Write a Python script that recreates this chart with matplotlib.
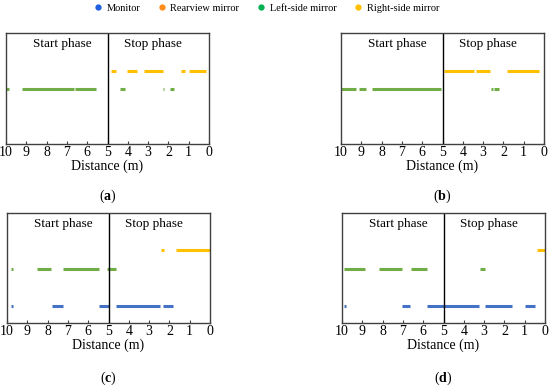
import matplotlib
matplotlib.use("Agg")
import matplotlib.pyplot as plt
from matplotlib.lines import Line2D

plt.rcParams['font.family'] = ['Liberation Serif', 'DejaVu Serif']
plt.rcParams['mathtext.fontset'] = 'custom'
plt.rcParams['mathtext.rm'] = 'Liberation Serif'
plt.rcParams['mathtext.bf'] = 'Liberation Serif:bold'

# gaze sources, their row on the y axis and colours
sources = ['Monitor', 'Rearview mirror', 'Left-side mirror', 'Right-side mirror']
levels = [1, 2, 3, 4]
line_colors = ['#4472C4', '#ED7D31', '#70AD47', '#FFC000']
legend_colors = ['#1F5FE0', '#FF8C1A', '#00B050', '#FFC000']

# gaze segments [from, to] in distance (m) for each panel
a_monitor = []
a_rearview = []
a_left = [[10.0, 9.85], [9.23, 6.65], [6.59, 5.58], [4.38, 4.15], [2.28, 2.2], [1.94, 1.74]]
a_right = [[4.83, 4.58], [4.05, 3.56], [3.2, 2.27], [1.36, 1.17], [0.97, 0.16]]

b_monitor = []
b_rearview = []
b_left = [[10.0, 9.25], [9.13, 8.77], [8.47, 5.07], [2.6, 2.5], [2.45, 2.2]]
b_right = [[4.92, 3.44], [3.37, 2.65], [1.8, 0.25]]

c_monitor = [[9.78, 9.72], [7.8, 7.26], [5.48, 5.0], [4.63, 2.45], [2.33, 1.81]]
c_rearview = []
c_left = [[9.78, 9.72], [8.52, 7.83], [7.26, 5.48], [5.06, 4.63]]
c_right = [[2.4, 2.28], [1.69, 0.0]]

d_monitor = [[9.88, 9.8], [7.02, 6.64], [5.82, 5.0], [5.0, 3.23], [2.94, 1.63], [0.99, 0.5]]
d_rearview = []
d_left = [[9.89, 8.85], [8.2, 7.05], [6.6, 5.82], [3.2, 2.95]]
d_right = [[0.41, 0.0]]

panels = [
    ('a', [a_monitor, a_rearview, a_left, a_right]),
    ('b', [b_monitor, b_rearview, b_left, b_right]),
    ('c', [c_monitor, c_rearview, c_left, c_right]),
    ('d', [d_monitor, d_rearview, d_left, d_right]),
]
xticks = [10, 9, 8, 7, 6, 5, 4, 3, 2, 1, 0]

fig = plt.figure(figsize=(5.5, 3.87), dpi=100)
W, H = 550, 387
# axes boxes in pixels: left, top, right, bottom
boxes = [(6, 33, 209, 144), (341, 33, 544, 144), (7, 213, 210, 323), (342, 213, 545, 323)]
label_y = [196, 196, 378, 378]

for (name, segs), box, ly in zip(panels, boxes, label_y):
    l, t, r, b = box
    ax = fig.add_axes([l / W, 1 - b / H, (r - l) / W, (b - t) / H])
    for lev, col, seg_list in zip(levels, line_colors, segs):
        for s in seg_list:
            ax.plot(s, [lev, lev], color=col, lw=2.2, solid_capstyle='butt')
    ax.axvline(5, color='black', lw=1.0)
    ax.set_xlim(10, 0)
    ax.set_ylim(0.1, 6.0)
    ax.set_yticks([])
    ax.set_xticks(xticks)
    ax.tick_params(axis='x', direction='in', length=2, pad=1.5, labelsize=10, color='#404040')
    for sp in ax.spines.values():
        sp.set_color('#404040')
        sp.set_linewidth(1.0)
    ax.set_xlabel('Distance (m)', fontsize=10, labelpad=0.5)
    ax.text(7.25, 0.9, 'Start phase', transform=ax.get_xaxis_transform(),
            ha='center', va='center', fontsize=9.5)
    ax.text(2.75, 0.9, 'Stop phase', transform=ax.get_xaxis_transform(),
            ha='center', va='center', fontsize=9.5)
    fig.text((l + r) / 2 / W, 1 - ly / H, r'($\mathbf{' + name + '}$)',
             ha='center', va='center', fontsize=10)

handles = [Line2D([], [], marker='o', ls='', color=c, markersize=3.5) for c in legend_colors]
fig.legend(handles, sources, loc='center', bbox_to_anchor=(266 / W, 1 - 8 / H), ncol=4,
           frameon=False, fontsize=7.5, handletextpad=0.3, columnspacing=1.6, handlelength=1.0)

fig.savefig('out.png', dpi=100)
